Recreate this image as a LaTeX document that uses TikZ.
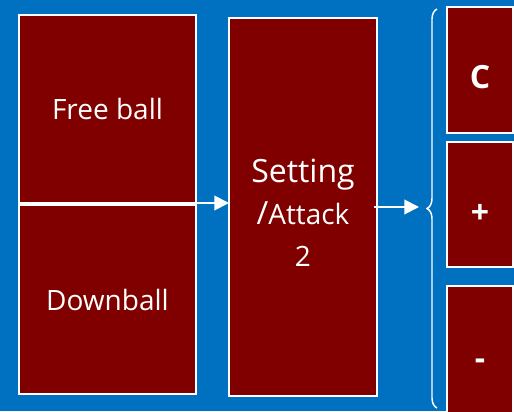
\documentclass[tikz,border=0pt]{standalone}
\usepackage{fontspec}
\setmainfont{Open Sans}
\usetikzlibrary{positioning,arrows.meta,decorations.pathreplacing}
\definecolor{bgblue}{RGB}{0,112,192}
\definecolor{boxred}{RGB}{128,0,0}
\tikzset{
	box/.style={draw=white, fill=boxred, line width=0.8pt, inner sep=0pt, outer sep=0pt, text=white, align=center, font=\fontsize{21}{28}\selectfont},
	grade/.style={box, minimum width=49.5pt, font=\bfseries\fontsize{24}{30}\selectfont, text height=28pt, text depth=0pt},
	arr/.style={white, line width=1.5pt, -{Triangle[length=11pt,width=11pt]}},
}

\begin{document}
\begin{tikzpicture}[x=0.75pt, y=-0.75pt]
	\useasboundingbox (0,0) rectangle (514,411);
	\fill[bgblue] (0,0) rectangle (514,411);
	
	\node[box, minimum width=132.75pt, minimum height=141pt] (free) at (107.5,109) {Free ball};
	\node[box, minimum width=132.75pt, minimum height=141.75pt, below=1.5pt of free] (down) {Downball};
	\node[box, minimum width=111pt, minimum height=283.5pt, font=\fontsize{21}{30}\selectfont] (set) at (303,207)
		{\rule{0pt}{26pt}{\fontsize{24}{30}\selectfont Setting}\\[1.5pt]{\fontsize{24}{30}\selectfont /}Attack\\[1.5pt]2};
	\node[grade, minimum height=94.5pt] (c) at (480,70) {C};
	\node[grade, minimum height=93.75pt, below=6.75pt of c] (plus) {+};
	\node[grade, minimum height=97.5pt, below=14.25pt of plus] (minus) {-};
	\coordinate (bt) at (437,9);
	\coordinate (bb) at (437,408);
	
	\draw[arr] ([xshift=-8.25pt]free.south east) -- (free.south east -| set.west);
	\draw[arr] ([xshift=-2pt]set.east) -- ([xshift=-13.5pt]set.east -| bb);
	\draw[white, line width=1.1pt, decorate, decoration={brace, amplitude=7.5pt}] (bb) -- (bt);
\end{tikzpicture}
\end{document}
